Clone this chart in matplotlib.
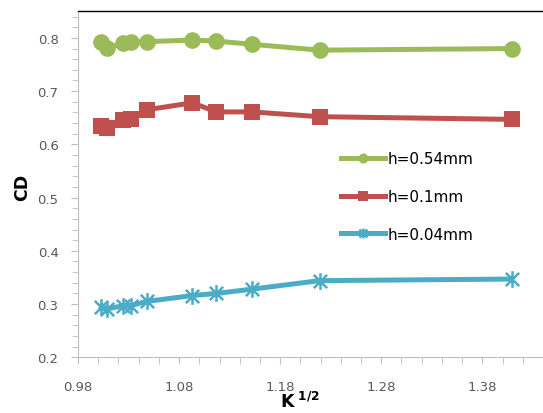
import matplotlib
matplotlib.use('Agg')
import matplotlib.pyplot as plt
from matplotlib.path import Path
from matplotlib.ticker import MultipleLocator, FixedLocator
import numpy as np

# sqrt(K) values, shared by the three series
k_sqrt = [1.003, 1.009, 1.025, 1.032, 1.048, 1.093, 1.117, 1.152, 1.219, 1.409]
cd_054 = [0.792, 0.781, 0.790, 0.792, 0.793, 0.796, 0.794, 0.788, 0.777, 0.780]
cd_010 = [0.635, 0.630, 0.645, 0.647, 0.665, 0.678, 0.661, 0.661, 0.652, 0.647]
cd_004 = [0.294, 0.291, 0.297, 0.297, 0.305, 0.316, 0.320, 0.328, 0.344, 0.347]
labels = ['h=0.54mm', 'h=0.1mm', 'h=0.04mm']
x_ticks = [0.98, 1.08, 1.18, 1.28, 1.38]
y_ticks = [0.2, 0.3, 0.4, 0.5, 0.6, 0.7, 0.8]

green = '#9BBB59'
red = '#C0504D'
cyan = '#4BACC6'

# excel style star: an x with a vertical bar
star = Path([(-1, -1), (1, 1), (-1, 1), (1, -1), (0, -1.25), (0, 1.25)],
            [Path.MOVETO, Path.LINETO] * 3)

W, H = 543, 414
fig = plt.figure(figsize=(W/100, H/100), dpi=100)
ax = fig.add_axes([78/W, 1 - 358.3/H, 1 - 78/W, (358.3 - 12.3)/H])

ax.plot(k_sqrt, cd_054, '-', color=green, lw=3.6, marker='o', ms=12,
        mew=0, label=labels[0])
ax.plot(k_sqrt, cd_010, '-', color=red, lw=3.6, marker='s', ms=11.5,
        mew=0, label=labels[1])
ax.plot(k_sqrt, cd_004, '-', color=cyan, lw=3.6, marker=star, ms=12,
        mew=1.8, mec=cyan, mfc='none', label=labels[2])

ax.set_xlim(0.98, 1.44)
ax.set_ylim(0.2, 0.85)
ax.xaxis.set_major_locator(FixedLocator(x_ticks))
ax.xaxis.set_minor_locator(MultipleLocator(0.02))
ax.yaxis.set_major_locator(FixedLocator(y_ticks))
ax.yaxis.set_minor_locator(MultipleLocator(0.02))
ax.set_xticklabels(['%.2f' % v for v in x_ticks])
ax.set_yticklabels(['%.1f' % v for v in y_ticks])

tick_col = '#595959'
ax.tick_params(axis='both', which='both', direction='out', color='#BFBFBF',
               labelcolor=tick_col, labelsize=9.5)
ax.tick_params(axis='y', which='major', length=5, pad=9)
ax.tick_params(axis='y', which='minor', length=4)
ax.tick_params(axis='x', which='major', length=5, pad=11)
ax.tick_params(axis='x', which='minor', length=5)

ax.spines['right'].set_visible(False)
ax.spines['top'].set_color('black')
ax.spines['top'].set_linewidth(1.0)
ax.spines['left'].set_color('#BFBFBF')
ax.spines['bottom'].set_color('#BFBFBF')

fig.text(21.7/W, 1 - 187/H, 'CD', rotation=90, ha='center', va='center',
         fontsize=12.5, fontweight='bold')
fig.text(300/W, 1.5/H, r'$\mathbf{K^{\ 1/2}}$', ha='center', va='bottom',
         fontsize=12.5)

ax.legend(loc='upper left', bbox_to_anchor=(341/W, 1 - 152/H),
          bbox_transform=fig.transFigure, frameon=False, fontsize=11,
          borderpad=0, borderaxespad=0, handlelength=2.9, handletextpad=0.15,
          labelspacing=1.5, markerscale=0.6)

fig.savefig('out.png', dpi=100)
